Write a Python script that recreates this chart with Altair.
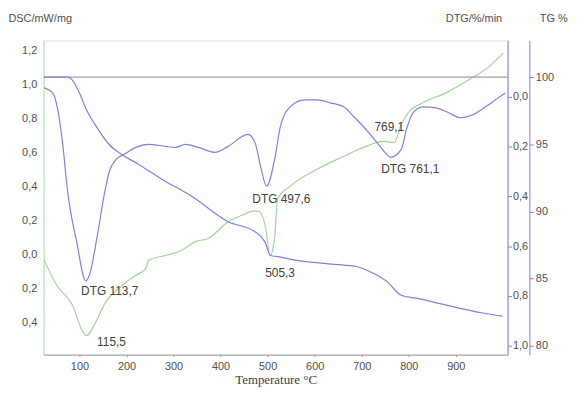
import altair as alt
import pandas as pd

# ---- data ----
T_dsc = [25, 51.6, 85, 106, 115.5, 131.6, 157, 184, 220, 241, 247, 283, 317, 346, 373.7,
         416, 443, 472.6, 483, 496, 505.3, 514.7, 521, 548, 605, 662, 704, 746, 769.1, 784,
         799, 830, 879, 927, 969, 1001]
dsc = [-0.03, -0.179, -0.295, -0.446, -0.475, -0.411, -0.272, -0.196, -0.12, -0.08,
       -0.033, -0.004, 0.025, 0.077, 0.095, 0.194, 0.229, 0.258, 0.252, 0.153,
       -0.004, 0.095, 0.327, 0.403, 0.502, 0.578, 0.63, 0.665, 0.659, 0.764,
       0.834, 0.892, 0.95, 1.025, 1.101, 1.183]

T_dtg = [25, 43, 54, 64, 75, 94, 113.7, 121, 138, 153, 163, 178, 195, 220, 247,
         283, 304, 325, 353, 388, 416, 458, 473, 485, 497.6, 515, 527, 548, 578, 605,
         633, 662, 683, 704, 732, 753, 761.1, 784, 795, 809, 830, 858, 885, 910, 936,
         963, 990, 1005]
dtg = [0.036, 0.016, -0.052, -0.183, -0.382, -0.582, -0.74, -0.717, -0.558, -0.39,
       -0.303, -0.251, -0.231, -0.203, -0.191, -0.199, -0.203, -0.191, -0.203, -0.223,
       -0.199, -0.151, -0.183, -0.279, -0.359, -0.251, -0.12, -0.04, -0.012, -0.012,
       -0.024, -0.04, -0.08, -0.12, -0.183, -0.231, -0.243, -0.211, -0.131, -0.064,
       -0.04, -0.044, -0.064, -0.084, -0.072, -0.04, -0.004, 0.016]

T_tg = [25, 75, 85, 100, 115, 136, 163, 190, 226, 275, 338, 416, 473, 494, 506,
        521, 563, 668, 689, 717, 753, 784, 816, 879, 957, 999]
tg = [100, 100, 99.78, 98.82, 97.56, 96.31, 94.98, 94.24, 93.5, 92.4, 91.14, 89.23,
      88.49, 87.75, 86.72, 86.64, 86.35, 85.98, 85.9, 85.53, 84.8, 83.76, 83.54,
      83.03, 82.44, 82.21]

tg_ref = [100]

ann_dsc_T = [115.5, 505.3, 769.1]
ann_dsc_v = [-0.475, -0.004, 0.659]
ann_dsc_txt = ["115,5", "505,3", "769,1"]

ann_dtg_T = [113.7, 497.6, 761.1]
ann_dtg_v = [-0.74, -0.359, -0.243]
ann_dtg_txt = ["DTG 113,7", "DTG 497,6", "DTG 761,1"]

x_ticks = [100, 200, 300, 400, 500, 600, 700, 800, 900]
dsc_ticks = [-0.4, -0.2, 0.0, 0.2, 0.4, 0.6, 0.8, 1.0, 1.2]
dtg_ticks = [-1.0, -0.8, -0.6, -0.4, -0.2, 0.0]
tg_ticks = [80, 85, 90, 95, 100]

# ---- styling ----
FONT = "Liberation Sans"
TXT = "#505050"
BLUE = "#8080d8"
GREEN = "#a3d39c"
LBL = "replace(format(abs(datum.value), '.1f'), '.', ',')"

df_dsc = pd.DataFrame({"T": T_dsc, "v": dsc})
df_dtg = pd.DataFrame({"T": T_dtg, "v": dtg})
df_tg = pd.DataFrame({"T": T_tg, "v": tg})
df_ref = pd.DataFrame({"v": tg_ref})

X = alt.X("T:Q", scale=alt.Scale(domain=[24, 1010], nice=False),
          axis=alt.Axis(values=x_ticks, format="d", domainColor="#9a9a9a", tickColor="#9a9a9a",
                        tickSize=2, labelColor=TXT, labelFont=FONT, labelFontSize=11,
                        labelPadding=4, grid=False, title="Temperature °C",
                        titleFont="Liberation Serif", titleFontSize=13, titleFontWeight="normal",
                        titleColor="#404040", titlePadding=2))

Y_dsc = alt.Y("v:Q", scale=alt.Scale(domain=[-0.586, 1.258], nice=False, zero=False),
              axis=alt.Axis(orient="left", values=dsc_ticks, labelExpr=LBL, ticks=False,
                            domainColor="#bfe3bf", labelColor=TXT, labelFont=FONT, labelFontSize=11,
                            labelPadding=7, grid=False, title="DSC/mW/mg", titleAngle=0,
                            titleAlign="left", titleBaseline="middle", titleX=-36, titleY=-22,
                            titleFont=FONT, titleFontSize=11, titleFontWeight="normal",
                            titleColor=TXT))

Y_dtg = alt.Y("v:Q", scale=alt.Scale(domain=[-1.036, 0.227], nice=False, zero=False),
              axis=alt.Axis(orient="right", values=dtg_ticks, labelExpr=LBL, tickSize=4,
                            tickColor=BLUE, domainColor=BLUE, labelColor=TXT, labelFont=FONT,
                            labelFontSize=11, labelPadding=1, grid=False, title="DTG/%/min",
                            titleAngle=0, titleAlign="right", titleBaseline="middle",
                            titleX=-6, titleY=-22, titleFont=FONT, titleFontSize=11,
                            titleFontWeight="normal", titleColor=TXT))

Y_tg = alt.Y("v:Q", scale=alt.Scale(domain=[79.34, 102.73], nice=False, zero=False),
             axis=alt.Axis(orient="right", offset=22, values=tg_ticks, format="d", tickSize=4,
                           tickColor=BLUE, domainColor=BLUE, labelColor=TXT, labelFont=FONT,
                           labelFontSize=11, labelPadding=2, grid=False, title="TG %",
                           titleAngle=0, titleAlign="left", titleBaseline="middle",
                           titleX=10, titleY=-22, titleFont=FONT, titleFontSize=11,
                           titleFontWeight="normal", titleColor=TXT))

dsc_offsets = [(25, 6), (10, 18), (-5, -16)]
dtg_offsets = [(24, 10), (15, 13), (20, 12)]

dsc_layers = [alt.Chart(df_dsc).mark_line(color=GREEN, strokeWidth=1.2, interpolate="monotone")
              .encode(x=X, y=Y_dsc)]
for i in range(3):
    d = pd.DataFrame({"T": [ann_dsc_T[i]], "v": [ann_dsc_v[i]], "t": [ann_dsc_txt[i]]})
    dx, dy = dsc_offsets[i]
    dsc_layers.append(alt.Chart(d).mark_text(font=FONT, fontSize=12, color="#404040",
                                             dx=dx, dy=dy, align="center", baseline="middle")
                      .encode(x=X, y=Y_dsc, text="t:N"))

dtg_layers = [alt.Chart(df_dtg).mark_line(color=BLUE, strokeWidth=1.2, interpolate="monotone")
              .encode(x=X, y=Y_dtg)]
for i in range(3):
    d = pd.DataFrame({"T": [ann_dtg_T[i]], "v": [ann_dtg_v[i]], "t": [ann_dtg_txt[i]]})
    dx, dy = dtg_offsets[i]
    dtg_layers.append(alt.Chart(d).mark_text(font=FONT, fontSize=12, color="#404040",
                                             dx=dx, dy=dy, align="center", baseline="middle")
                      .encode(x=X, y=Y_dtg, text="t:N"))

tg_layers = [
    alt.Chart(df_ref).mark_rule(color="#a0a0a0", strokeWidth=1.2).encode(y=Y_tg),
    alt.Chart(df_tg).mark_line(color=BLUE, strokeWidth=1.2, interpolate="monotone")
    .encode(x=X, y=Y_tg),
]

chart = alt.layer(
    alt.layer(*dsc_layers),
    alt.layer(*dtg_layers),
    alt.layer(*tg_layers),
).resolve_scale(y="independent").properties(
    width=468, height=317,
    padding={"left": 36, "top": 31, "right": 66, "bottom": 33},
    autosize=alt.AutoSizeParams(type="none"),
).configure_view(stroke=None).configure(background="white")

chart.save("out.html", embed_options={"renderer": "svg", "actions": False})
